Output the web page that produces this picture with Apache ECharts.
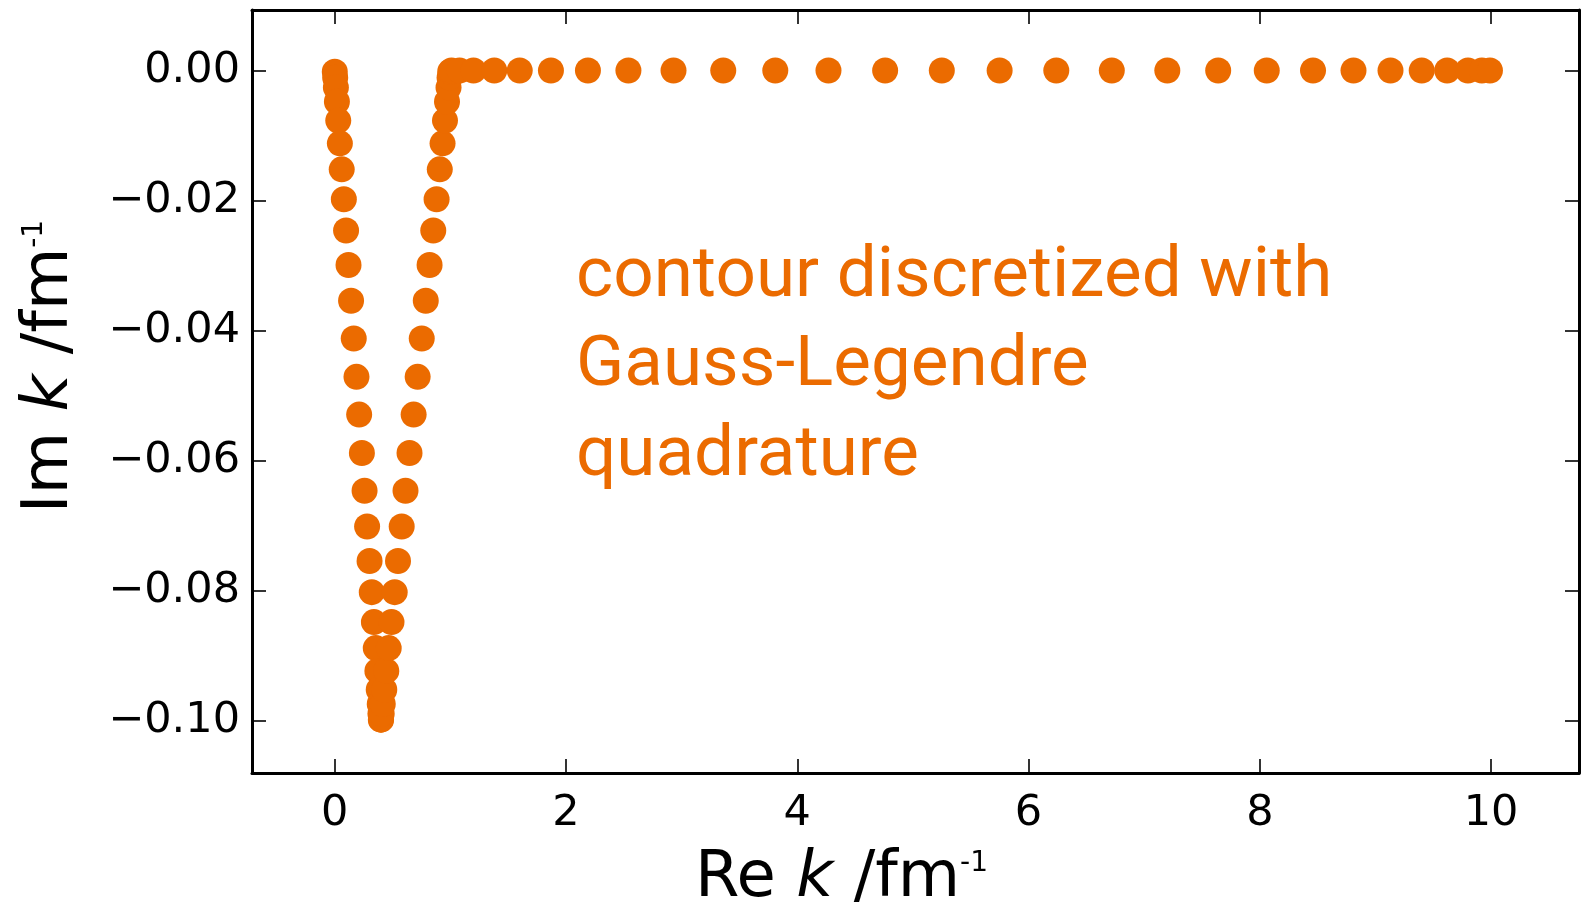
<!DOCTYPE html>
<html>
<head>
<meta charset="utf-8">
<script src="https://cdn.jsdelivr.net/npm/echarts@6/dist/echarts.min.js"></script>
<style>
  html, body { margin: 0; padding: 0; background: #ffffff; }
  #chart { width: 1585px; height: 907px; }
</style>
</head>
<body>
<div id="chart"></div>
<script>
// Leg 1: from the origin down to the turning point (Re k, Im k)
const legDownRe = [0.0008, 0.0044, 0.0104, 0.0192, 0.0308, 0.0448, 0.0608, 0.0792, 0.0984, 0.1196,
                   0.1416, 0.1648, 0.1884, 0.2116, 0.2352, 0.2584, 0.2804, 0.3016, 0.3208, 0.3392,
                   0.3552, 0.3692, 0.3808, 0.3896, 0.3956, 0.3992];
const legDownIm = [-0.0002, -0.0011, -0.0026, -0.0048, -0.0077, -0.0112, -0.0152, -0.0198, -0.0246, -0.0299,
                   -0.0354, -0.0412, -0.0471, -0.0529, -0.0588, -0.0646, -0.0701, -0.0754, -0.0802, -0.0848,
                   -0.0888, -0.0923, -0.0952, -0.0974, -0.0989, -0.0998];
// Leg 2: from the turning point back up to the real axis
const legUpRe = [0.4012, 0.4066, 0.4156, 0.4288, 0.4462, 0.4672, 0.4912, 0.5188, 0.5476, 0.5794,
                 0.6124, 0.6472, 0.6826, 0.7174, 0.7528, 0.7876, 0.8206, 0.8524, 0.8812, 0.9088,
                 0.9328, 0.9538, 0.9712, 0.9844, 0.9934, 0.9988];
const legUpIm = [-0.0998, -0.0989, -0.0974, -0.0952, -0.0923, -0.0888, -0.0848, -0.0802, -0.0754, -0.0701,
                 -0.0646, -0.0588, -0.0529, -0.0471, -0.0412, -0.0354, -0.0299, -0.0246, -0.0198, -0.0152,
                 -0.0112, -0.0077, -0.0048, -0.0026, -0.0011, -0.0002];
// Leg 3: along the real axis out to the cutoff
const realLegRe = [1.01, 1.08, 1.20, 1.38, 1.60, 1.87, 2.19, 2.54, 2.93, 3.36,
                   3.81, 4.27, 4.76, 5.25, 5.75, 6.24, 6.72, 7.20, 7.64, 8.06,
                   8.46, 8.81, 9.13, 9.40, 9.62, 9.80, 9.92, 9.99];
const realLegIm = [0, 0, 0, 0, 0, 0, 0, 0, 0, 0,
                   0, 0, 0, 0, 0, 0, 0, 0, 0, 0,
                   0, 0, 0, 0, 0, 0, 0, 0];

const xTicks = [0, 2, 4, 6, 8, 10];
const yTicks = [0, -0.02, -0.04, -0.06, -0.08, -0.10];

const ORANGE = '#EB6B00';

function pairs(re, im) {
  return re.map((r, i) => [r, im[i]]);
}
const points = [].concat(
  pairs(legDownRe, legDownIm),
  pairs(legUpRe, legUpIm),
  pairs(realLegRe, realLegIm)
);

const frameLine = { show: true, onZero: false, lineStyle: { color: '#000', width: 3 } };
const tickStyle = { color: '#000', width: 1.6 };
const labelFont = { fontFamily: 'DejaVu Sans', fontSize: 43, color: '#000' };
const titleRich = {
  n:   { fontFamily: 'DejaVu Sans', fontSize: 64, color: '#000' },
  it:  { fontFamily: 'DejaVu Sans', fontSize: 64, fontStyle: 'italic', color: '#000' },
  sup: { fontFamily: 'DejaVu Sans', fontSize: 28, color: '#000', padding: [0, 0, 30, 0] }
};

const X_MIN = -0.715, X_MAX = 10.76;
const Y_MIN = -0.108, Y_MAX = 0.0093;

const fmtY = v => (v < 0 ? '\u2212' : '') + Math.abs(v).toFixed(2);

const option = {
  animation: false,
  backgroundColor: '#ffffff',
  grid: { left: 252, right: 6, top: 10, bottom: 134, containLabel: false, outerBoundsMode: 'none' },
  xAxis: [
    {
      type: 'value', position: 'bottom', min: X_MIN, max: X_MAX,
      axisLine: frameLine,
      axisTick: { show: true, inside: true, length: 14, lineStyle: tickStyle, customValues: xTicks },
      axisLabel: Object.assign({ margin: 19, customValues: xTicks, formatter: v => String(Math.round(v)) }, labelFont),
      splitLine: { show: false },
      name: '{n|Re }{it|k}{n| /fm}{sup|-1}',
      nameLocation: 'middle', nameGap: 74,
      nameTextStyle: { rich: titleRich, padding: [0, 148, 0, 0] }
    },
    {
      type: 'value', position: 'top', min: X_MIN, max: X_MAX,
      axisLine: frameLine,
      axisTick: { show: true, inside: true, length: 14, lineStyle: tickStyle, customValues: xTicks },
      axisLabel: { show: false },
      splitLine: { show: false }
    }
  ],
  yAxis: [
    {
      type: 'value', position: 'left', min: Y_MIN, max: Y_MAX,
      axisLine: frameLine,
      axisTick: { show: true, inside: true, length: 14, lineStyle: tickStyle, customValues: yTicks },
      axisLabel: Object.assign({ margin: 12, customValues: yTicks, formatter: fmtY }, labelFont),
      splitLine: { show: false },
      name: '{n|Im }{it|k}{n| /fm}{sup|-1}',
      nameLocation: 'middle', nameGap: 170, nameRotate: 90,
      nameTextStyle: { rich: titleRich, padding: [0, 0, 0, 50] }
    },
    {
      type: 'value', position: 'right', min: Y_MIN, max: Y_MAX,
      axisLine: frameLine,
      axisTick: { show: true, inside: true, length: 14, lineStyle: tickStyle, customValues: yTicks },
      axisLabel: { show: false },
      splitLine: { show: false }
    }
  ],
  graphic: [
    {
      type: 'text', left: 576, top: 233, z: 10,
      style: {
        text: 'contour discretized with\nGauss-Legendre\nquadrature',
        fontFamily: 'Roboto', fontSize: 71, lineHeight: 89.5,
        fill: ORANGE
      }
    }
  ],
  series: [
    {
      type: 'scatter', xAxisIndex: 0, yAxisIndex: 0,
      symbol: 'circle', symbolSize: 26,
      itemStyle: { color: ORANGE, opacity: 1 },
      data: points
    }
  ]
};

const chart = echarts.init(document.getElementById('chart'), null, { renderer: 'canvas' });
chart.setOption(option);
</script>
</body>
</html>
